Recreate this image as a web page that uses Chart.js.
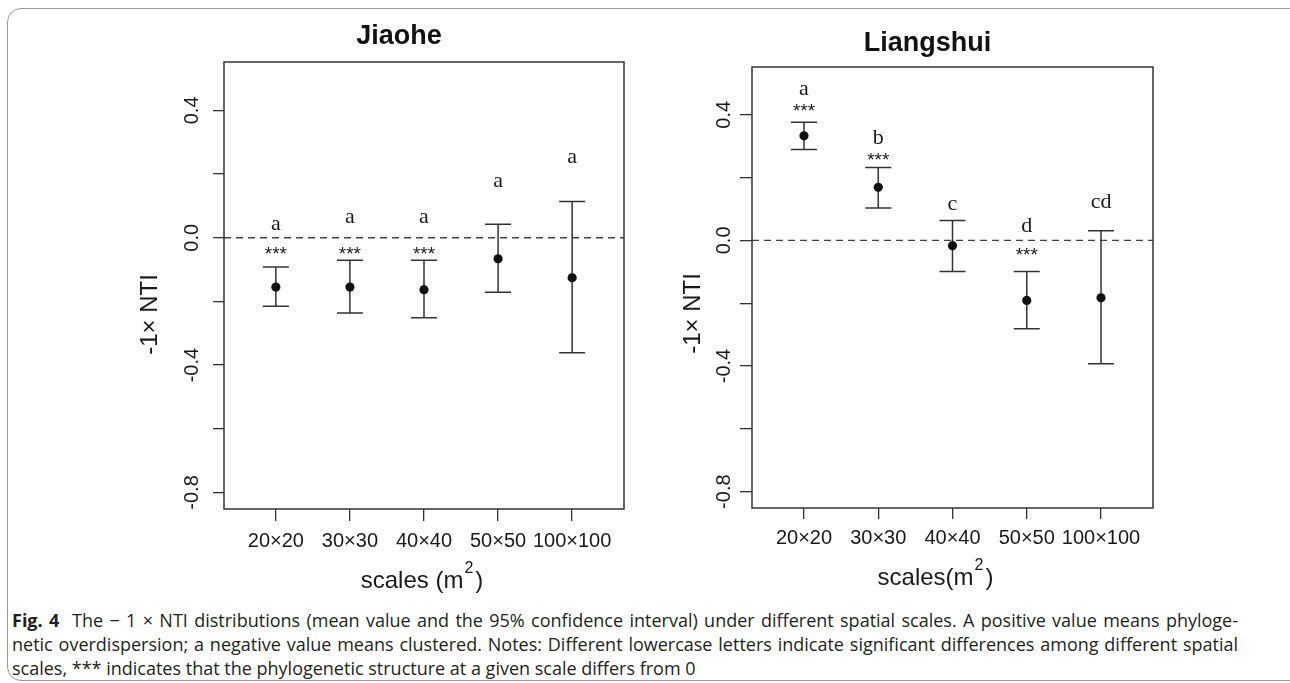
<!DOCTYPE html>
<html>
<head>
<meta charset="utf-8">
<script src="https://cdn.jsdelivr.net/npm/chart.js@4.4.1/dist/chart.umd.min.js"></script>
<style>
  html, body { margin: 0; padding: 0; background: #fff; }
  #fig { position: relative; width: 1290px; height: 683px; overflow: hidden; }
  #frame {
    position: absolute; left: 7px; top: 8px; width: 1300px; height: 673px;
    border: 1px solid #9a9a9a; border-radius: 14px; box-sizing: border-box;
  }
  canvas { position: absolute; top: 0; }
  #caption {
    position: absolute; left: 12px; top: 608px; width: 1226px;
    font-family: "Open Sans", sans-serif; font-size: 18px; line-height: 24px; color: #231f20;
  }
  #caption .j { text-align: justify; text-align-last: justify; }
</style>
</head>
<body>
<div id="fig">
  <div id="frame"></div>
  <canvas id="jiaohe" width="832" height="600" style="left:0"></canvas>
  <canvas id="liangshui" width="574" height="600" style="left:660px"></canvas>
  <div id="caption">
    <div class="j"><b>Fig. 4</b>&nbsp; The − 1 × NTI distributions (mean value and the 95% confidence interval) under different spatial scales. A positive value means phyloge-</div>
    <div class="j">netic overdispersion; a negative value means clustered. Notes: Different lowercase letters indicate significant differences among different spatial</div>
    <div>scales, *** indicates that the phylogenetic structure at a given scale differs from 0</div>
  </div>
</div>
<script>
// categories and axis ticks
const scaleLabels = ["20×20", "30×30", "40×40", "50×50", "100×100"];
const yTickValues = [-0.8, -0.6, -0.4, -0.2, 0, 0.2, 0.4];
const yTickLabelled = [-0.8, -0.4, 0, 0.4];

// Jiaohe: mean and 95% CI of -1 x NTI
const jiaoheMean = [-0.155, -0.155, -0.163, -0.066, -0.126];
const jiaoheLower = [-0.215, -0.236, -0.251, -0.171, -0.361];
const jiaoheUpper = [-0.092, -0.071, -0.071, 0.042, 0.114];
const jiaoheLetters = ["a", "a", "a", "a", "a"];
const jiaoheLetterY = [0.044, 0.065, 0.065, 0.177, 0.253];
const jiaoheStarY = [-0.04, -0.04, -0.04, null, null];

// Liangshui
const liangshuiMean = [0.333, 0.169, -0.017, -0.191, -0.183];
const liangshuiLower = [0.289, 0.103, -0.099, -0.281, -0.393];
const liangshuiUpper = [0.376, 0.232, 0.063, -0.099, 0.031];
const liangshuiLetters = ["a", "b", "c", "d", "cd"];
const liangshuiLetterY = [0.48, 0.326, 0.114, 0.045, 0.12];
const liangshuiStarY = [0.425, 0.27, null, -0.035, null];

const INK = "#1a1a1a";
const LINE = "#333";
const SANS = "Liberation Sans";

/** error bars, zero line, letters, stars, box and axis titles in the R style */
function rDecorations(set) {
  return {
    id: "rDecorations",
    beforeDatasetsDraw(chart) {
      const { ctx, chartArea: a, scales: { x, y } } = chart;
      ctx.save();
      const y0 = y.getPixelForValue(0);
      ctx.strokeStyle = "#444";
      ctx.lineWidth = 1.3;
      ctx.setLineDash([7, 5]);
      ctx.beginPath();
      ctx.moveTo(a.left, y0);
      ctx.lineTo(a.right, y0);
      ctx.stroke();
      ctx.setLineDash([]);
      ctx.strokeStyle = LINE;
      ctx.lineWidth = 1.5;
      set.lower.forEach((lo, i) => {
        const px = x.getPixelForValue(i);
        const pLo = y.getPixelForValue(lo);
        const pHi = y.getPixelForValue(set.upper[i]);
        ctx.beginPath();
        ctx.moveTo(px, pLo);
        ctx.lineTo(px, pHi);
        ctx.moveTo(px - 13, pLo);
        ctx.lineTo(px + 13, pLo);
        ctx.moveTo(px - 13, pHi);
        ctx.lineTo(px + 13, pHi);
        ctx.stroke();
      });
      ctx.restore();
    },
    afterDatasetsDraw(chart) {
      const { ctx, chartArea: a, scales: { x, y } } = chart;
      ctx.save();
      ctx.fillStyle = INK;
      ctx.textAlign = "center";
      ctx.textBaseline = "middle";
      ctx.font = '22px "Liberation Serif"';
      set.letters.forEach((t, i) => {
        ctx.fillText(t, x.getPixelForValue(i), y.getPixelForValue(set.letterY[i]));
      });
      ctx.font = `19px "${SANS}"`;
      ctx.textBaseline = "alphabetic";
      set.starY.forEach((v, i) => {
        if (v === null) return;
        ctx.fillText("***", x.getPixelForValue(i), y.getPixelForValue(v) + 10);
      });
      // box round the plot region
      ctx.strokeStyle = LINE;
      ctx.lineWidth = 1.5;
      ctx.strokeRect(a.left, a.top, a.right - a.left, a.bottom - a.top);

      // y title
      ctx.font = `24px "${SANS}"`;
      ctx.textBaseline = "middle";
      ctx.save();
      ctx.translate(a.left - set.yTitleGap, (a.top + a.bottom) / 2 + set.yTitleShift);
      ctx.rotate(-Math.PI / 2);
      ctx.fillText("-1× NTI", 0, 0);
      ctx.restore();

      // x title with a raised 2
      const big = `24px "${SANS}"`;
      const small = `16px "${SANS}"`;
      ctx.font = big;
      const w1 = ctx.measureText(set.xHead).width;
      const w3 = ctx.measureText(")").width;
      ctx.font = small;
      const w2 = ctx.measureText("2").width + 3;
      const yT = a.bottom + set.xTitleGap;
      let x0 = (a.left + a.right) / 2 + set.xTitleShift - (w1 + w2 + w3) / 2;
      ctx.textAlign = "left";
      ctx.font = big;
      ctx.fillText(set.xHead, x0, yT);
      ctx.font = small;
      ctx.fillText("2", x0 + w1 + 1, yT - 12);
      ctx.font = big;
      ctx.fillText(")", x0 + w1 + w2, yT);
      ctx.restore();
    },
  };
}

function makeChart(id, set) {
  const ctx = document.getElementById(id).getContext("2d");
  return new Chart(ctx, {
    type: "scatter",
    data: {
      datasets: [
        {
          data: set.mean.map((m, i) => ({ x: i, y: m })),
          pointRadius: 4.6,
          pointBackgroundColor: "#111",
          pointBorderWidth: 0,
          showLine: false,
        },
      ],
    },
    plugins: [rDecorations(set)],
    options: {
      responsive: false,
      animation: false,
      devicePixelRatio: 1,
      layout: { padding: set.padding },
      plugins: {
        legend: { display: false },
        tooltip: { enabled: false },
        title: {
          display: true,
          text: set.title,
          color: "#111",
          font: { family: SANS, size: 27, weight: "bold" },
          padding: set.titlePadding,
        },
      },
      scales: {
        x: {
          type: "linear",
          min: -0.7,
          max: 4.7,
          afterBuildTicks: (s) => {
            s.ticks = scaleLabels.map((_, i) => ({ value: i }));
          },
          afterFit: (s) => {
            s.height = 80;
          },
          grid: { drawOnChartArea: false, tickLength: set.xTickLength, color: LINE, lineWidth: 1.3 },
          border: { display: false },
          ticks: {
            autoSkip: false,
            maxRotation: 0,
            padding: set.xTickPadding,
            color: INK,
            font: { family: SANS, size: 20 },
            callback: (v) => scaleLabels[v],
          },
        },
        y: {
          min: -0.852,
          max: 0.552,
          afterBuildTicks: (s) => {
            s.ticks = yTickValues.map((v) => ({ value: v }));
          },
          afterFit: (s) => {
            s.width = 50;
          },
          grid: { drawOnChartArea: false, tickLength: set.yTickLength, color: LINE, lineWidth: 1.3 },
          border: { display: false },
          ticks: {
            autoSkip: false,
            minRotation: 90,
            maxRotation: 90,
            crossAlign: "center",
            padding: set.yTickPadding,
            color: INK,
            font: { family: SANS, size: 20 },
            callback: (v) => (yTickLabelled.some((t) => Math.abs(t - v) < 1e-9) ? v.toFixed(1) : ""),
          },
        },
      },
    },
  });
}

makeChart("jiaohe", {
  title: "Jiaohe",
  mean: jiaoheMean,
  lower: jiaoheLower,
  upper: jiaoheUpper,
  letters: jiaoheLetters,
  letterY: jiaoheLetterY,
  starY: jiaoheStarY,
  padding: { left: 174, right: 208, top: 0, bottom: 11 },
  titlePadding: { top: 20.8, bottom: 8.8 },
  xTickLength: 12,
  xTickPadding: 8,
  yTickLength: 11,
  yTickPadding: 3,
  yTitleGap: 74,
  yTitleShift: 29,
  xHead: "scales (m",
  xTitleGap: 72,
  xTitleShift: -2,
});

makeChart("liangshui", {
  title: "Liangshui",
  mean: liangshuiMean,
  lower: liangshuiLower,
  upper: liangshuiUpper,
  letters: liangshuiLetters,
  letterY: liangshuiLetterY,
  starY: liangshuiStarY,
  padding: { left: 42, right: 81, top: 0, bottom: 12 },
  titlePadding: { top: 27.8, bottom: 6.8 },
  xTickLength: 11,
  xTickPadding: 7,
  yTickLength: 12,
  yTickPadding: -2,
  yTitleGap: 59,
  yTitleShift: 26,
  xHead: "scales(m",
  xTitleGap: 70,
  xTitleShift: -17,
});
</script>
</body>
</html>
